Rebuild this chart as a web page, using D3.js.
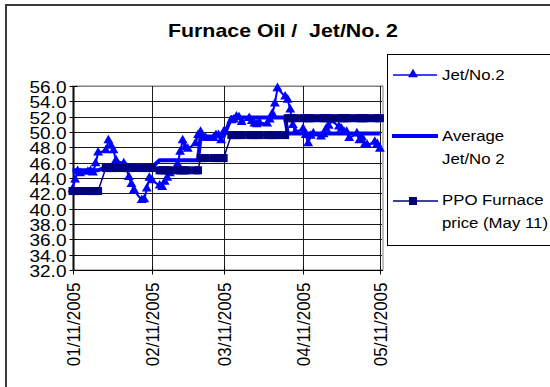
<!DOCTYPE html>
<html><head><meta charset="utf-8">
<script src="https://cdn.jsdelivr.net/npm/d3@7"></script>
<style>body{margin:0;background:#fff}svg{display:block}text{font-family:"Liberation Sans",Arial,sans-serif;fill:#000}</style>
</head><body><svg id="c" width="550" height="387"></svg>
<script>
// ---- data ----
const dates = [
 "2005-01-11","2005-01-12","2005-01-13","2005-01-14","2005-01-17","2005-01-18","2005-01-19","2005-01-20","2005-01-21","2005-01-24","2005-01-25","2005-01-26","2005-01-27","2005-01-28","2005-01-31",
 "2005-02-01","2005-02-02","2005-02-03","2005-02-04","2005-02-07","2005-02-08","2005-02-09","2005-02-10","2005-02-11","2005-02-14","2005-02-15","2005-02-16","2005-02-17","2005-02-18","2005-02-21","2005-02-22","2005-02-23","2005-02-24","2005-02-25","2005-02-28",
 "2005-03-01","2005-03-02","2005-03-03","2005-03-04","2005-03-07","2005-03-08","2005-03-09","2005-03-10","2005-03-11","2005-03-14","2005-03-15","2005-03-16","2005-03-17","2005-03-18","2005-03-21","2005-03-22","2005-03-23","2005-03-24","2005-03-25","2005-03-28","2005-03-29","2005-03-30","2005-03-31",
 "2005-04-01","2005-04-04","2005-04-05","2005-04-06","2005-04-07","2005-04-08","2005-04-11","2005-04-12","2005-04-13","2005-04-14","2005-04-15","2005-04-18","2005-04-19","2005-04-20","2005-04-21","2005-04-22","2005-04-25","2005-04-26","2005-04-27","2005-04-28","2005-04-29",
 "2005-05-02","2005-05-03","2005-05-04","2005-05-05","2005-05-06","2005-05-09","2005-05-10","2005-05-11"];
const jetValues = [
 42.5,43.8,44.9,44.6,44.8,44.9,44.7,45.9,47.3,47.6,48.9,48.2,47.6,46.3,45.9,
 45.4,44.1,43.2,42.4,41.1,41.2,42.6,44.0,43.7,43.0,42.8,43.5,44.0,44.6,45.8,47.4,48.9,48.0,47.8,48.5,
 49.6,50.0,49.3,49.2,49.2,49.6,49.6,48.9,50.0,51.5,51.6,52.0,51.9,51.3,51.8,51.4,51.1,51.0,51.2,51.1,51.6,52.4,53.7,
 55.7,54.6,54.2,52.9,50.9,50.0,50.4,49.6,48.5,49.5,49.8,49.4,49.7,50.4,50.8,51.5,50.7,50.4,50.0,50.0,49.2,
 49.8,48.9,49.3,48.3,48.3,48.7,48.4,47.8];
const avgValues = [
 45.0,45.0,45.0,45.0,45.0,45.0,45.0,45.0,45.0,45.4,45.4,45.4,45.4,45.4,45.4,
 45.4,45.4,45.4,45.4,45.4,45.4,45.4,45.4,45.4,46.3,46.3,46.3,46.3,46.3,46.3,46.3,46.3,46.3,46.3,46.3,
 46.3,49.4,49.4,49.4,49.4,49.4,49.4,49.4,49.4,51.9,51.9,51.9,51.9,51.9,51.9,51.9,51.9,51.9,51.9,51.9,51.9,51.9,51.9,
 51.9,51.9,49.8,49.8,49.8,49.8,49.8,49.8,49.8,49.8,49.8,49.8,49.8,49.8,49.8,49.8,49.8,49.8,49.8,49.8,49.8,
 49.8,49.8,49.8,49.8,49.8,49.8,49.8,49.8];
const ppoValues = [
 42.3,42.3,42.3,42.3,42.3,42.3,42.3,42.3,42.3,45.3,45.3,45.3,45.3,45.3,45.3,
 45.3,45.3,45.3,45.3,45.3,45.3,45.3,45.3,45.3,45.0,45.0,45.0,45.0,45.0,45.0,45.0,45.0,45.0,45.0,45.0,
 45.0,46.6,46.6,46.6,46.6,46.6,46.6,46.6,46.6,49.6,49.6,49.6,49.6,49.6,49.6,49.6,49.6,49.6,49.6,49.6,49.6,49.6,49.6,
 49.6,49.6,51.8,51.8,51.8,51.8,51.8,51.8,51.8,51.8,51.8,51.8,51.8,51.8,51.8,51.8,51.8,51.8,51.8,51.8,51.8,
 51.8,51.8,51.8,51.8,51.8,51.8,51.8,51.8];
const yTickValues = [32,34,36,38,40,42,44,46,48,50,52,54,56];
const xTickDates = ["2005-01-11","2005-02-11","2005-03-11","2005-04-11","2005-05-11"];
const xTickLabels = ["01/11/2005","02/11/2005","03/11/2005","04/11/2005","05/11/2005"];
const seriesNames = ["Jet/No.2", ["Average","Jet/No 2"], ["PPO Furnace","price (May 11)"]];
const titleText = "Furnace Oil /  Jet/No. 2";

// ---- drawing ----
const parse = d3.timeParse("%Y-%m-%d");
const svg = d3.select("#c");
const L = 72.5, R = 383, T = 86, B = 270;
const SX = 1.12; // horizontal stretch of the original's lettering
const start = parse("2005-01-11");
const x = d3.scaleTime().domain([start, new Date(start.getTime() + 121.2*864e5)]).range([L, R]);
const y = d3.scaleLinear().domain([32, 56]).range([B, T]);

svg.append("rect").attr("x",6).attr("y",5).attr("width",600).attr("height",500)
  .attr("fill","#fff").attr("stroke","#3a3a3a").attr("stroke-width",2);

svg.append("text").attr("x",168).attr("y",37).attr("text-anchor","start")
  .attr("textLength",230).attr("lengthAdjust","spacingAndGlyphs")
  .style("white-space","pre").attr("xml:space","preserve")
  .style("font-weight","bold").style("font-size","19px").text(titleText);

// plot border
svg.append("rect").attr("x",L).attr("y",T).attr("width",R-L).attr("height",B-T)
  .attr("fill","#fff").attr("stroke","#808080").attr("stroke-width",1);

// horizontal grid
svg.append("g").selectAll("line").data(yTickValues).join("line")
  .attr("x1",L).attr("x2",R-1).attr("y1",d=>Math.round(y(d))+0.5).attr("y2",d=>Math.round(y(d))+0.5)
  .attr("stroke",d=> d===56 ? "#808080" : "#1a1a1a").attr("stroke-width",1);
// vertical grid
svg.append("g").selectAll("line").data(xTickDates).join("line")
  .attr("x1",d=>Math.round(x(parse(d)))+0.5).attr("x2",d=>Math.round(x(parse(d)))+0.5)
  .attr("y1",T).attr("y2",B).attr("stroke","#1a1a1a");

// axes
const yAxis = d3.axisLeft(y).tickValues(yTickValues).tickFormat(d3.format(".1f")).tickSizeInner(4).tickSizeOuter(0);
const gy = svg.append("g").attr("transform",`translate(${Math.round(L)+0.5},0)`).call(yAxis);
gy.selectAll("line,path").attr("stroke","#000");
gy.selectAll(".tick line").attr("x2",-4).attr("x1",4);
gy.selectAll(".tick").attr("transform",d=>`translate(0,${Math.round(y(d))+0.5})`);
gy.selectAll("text").style("font-size","17px").attr("fill","#000")
  .attr("x",0).attr("dy","0.36em").attr("text-anchor","end")
  .attr("transform",`translate(-7,0) scale(${SX},1)`);

const xAxis = d3.axisBottom(x).tickValues(xTickDates.map(parse)).tickFormat((d,i)=>xTickLabels[i]).tickSizeInner(4).tickSizeOuter(0);
const gx = svg.append("g").attr("transform",`translate(0,${B+0.5})`).call(xAxis);
gx.selectAll("line,path").attr("stroke","#000");
gx.select("path").attr("d",`M${L},0H${R}`);
gx.selectAll(".tick line").attr("y1",-4).attr("y2",4);
gx.selectAll(".tick").attr("transform",d=>`translate(${Math.round(x(d))+0.5},0)`);
gx.selectAll("text").style("font-size","17px").attr("fill","#000")
  .attr("text-anchor","end").attr("transform",`rotate(-90) scale(1,${SX})`).attr("x",-12).attr("y",0).attr("dy","0.36em");

const pts = dates.map(parse);
const lineGen = vals => d3.line().x((d,i)=>x(pts[i])).y(d=>y(d))(vals);
const jetColor = "#0000FF", ppoColor = "#000080";

// Jet/No.2
svg.append("path").attr("d",lineGen(jetValues)).attr("fill","none").attr("stroke",jetColor).attr("stroke-width",2);
const tri = d3.symbol().type(d3.symbolTriangle).size(42);
svg.append("g").selectAll("path").data(jetValues).join("path")
  .attr("d",tri).attr("transform",(d,i)=>`translate(${x(pts[i])},${y(d)})`).attr("fill",jetColor);

// Average
svg.append("path").attr("d",lineGen(avgValues)).attr("fill","none").attr("stroke",jetColor).attr("stroke-width",4);

// PPO
svg.append("path").attr("d",lineGen(ppoValues)).attr("fill","none").attr("stroke",ppoColor).attr("stroke-width",1.5);
svg.append("g").selectAll("rect").data(ppoValues).join("rect")
  .attr("x",(d,i)=>x(pts[i])-4).attr("y",d=>y(d)-4).attr("width",8).attr("height",8).attr("fill",ppoColor);

// legend
const lg = svg.append("g");
lg.append("rect").attr("x",387.5).attr("y",54.5).attr("width",200).attr("height",191).attr("fill","#fff").attr("stroke","#000");
const legText = (ty, s) => lg.append("text").attr("transform",`translate(442,${ty}) scale(${SX},1)`)
  .attr("dy","0.36em").style("font-size","15px").text(s);
lg.append("line").attr("x1",393).attr("x2",437).attr("y1",75).attr("y2",75).attr("stroke",jetColor).attr("stroke-width",1.5);
lg.append("path").attr("d",tri).attr("transform","translate(413,74.5)").attr("fill",jetColor);
legText(75, seriesNames[0]);
lg.append("line").attr("x1",392).attr("x2",438).attr("y1",136).attr("y2",136).attr("stroke",jetColor).attr("stroke-width",4);
legText(136, seriesNames[1][0]);
legText(159, seriesNames[1][1]);
lg.append("line").attr("x1",393).attr("x2",438).attr("y1",201).attr("y2",201).attr("stroke",ppoColor).attr("stroke-width",1.5);
lg.append("rect").attr("x",409).attr("y",197).attr("width",8).attr("height",8).attr("fill",ppoColor);
legText(200, seriesNames[2][0]);
legText(223, seriesNames[2][1]);
</script></body></html>
